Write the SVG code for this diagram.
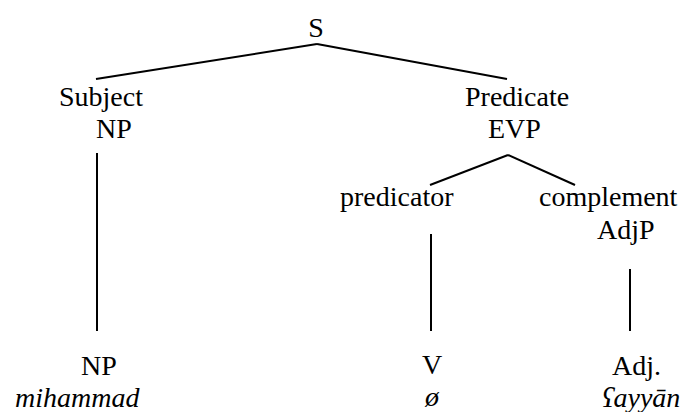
<svg xmlns="http://www.w3.org/2000/svg" width="686" height="412" viewBox="0 0 686 412">
<style>
.t{font-family:"Liberation Serif","Times New Roman",serif;font-size:28px;fill:#000}
.i{font-style:italic}
.e{stroke:#000;stroke-width:2;fill:none}
</style>
<rect width="686" height="412" fill="#fff"/>
<g id="connectors">
<line class="e" x1="317" y1="44" x2="96" y2="79"/>
<line class="e" x1="317" y1="44" x2="507" y2="79"/>
<line class="e" x1="97" y1="153" x2="97" y2="331"/>
<line class="e" x1="508" y1="155" x2="430" y2="185"/>
<line class="e" x1="508" y1="155" x2="575" y2="185"/>
<line class="e" x1="431" y1="234" x2="431" y2="331"/>
<line class="e" x1="630" y1="269" x2="630" y2="331"/>
</g>
<g class="t">
<g id="S"><text x="316" y="37" text-anchor="middle">S</text></g>
<g id="subject"><text x="59" y="106">Subject</text><text x="96" y="138">NP</text></g>
<g id="predicate"><text x="465" y="106">Predicate</text><text x="488" y="138">EVP</text></g>
<g id="predicator"><text x="340" y="206">predicator</text></g>
<g id="complement"><text x="539" y="206">complement</text><text x="597" y="239">AdjP</text></g>
<g id="np-leaf"><text x="81" y="375">NP</text><text class="i" x="15" y="407">mihammad</text></g>
<g id="v-leaf"><text x="432" y="374" text-anchor="middle">V</text><text class="i" x="432" y="406" text-anchor="middle">ø</text></g>
<g id="adj-leaf"><text x="612" y="375">Adj.</text><text class="i" x="602" y="407">ʕayyān</text></g>
</g>
</svg>
